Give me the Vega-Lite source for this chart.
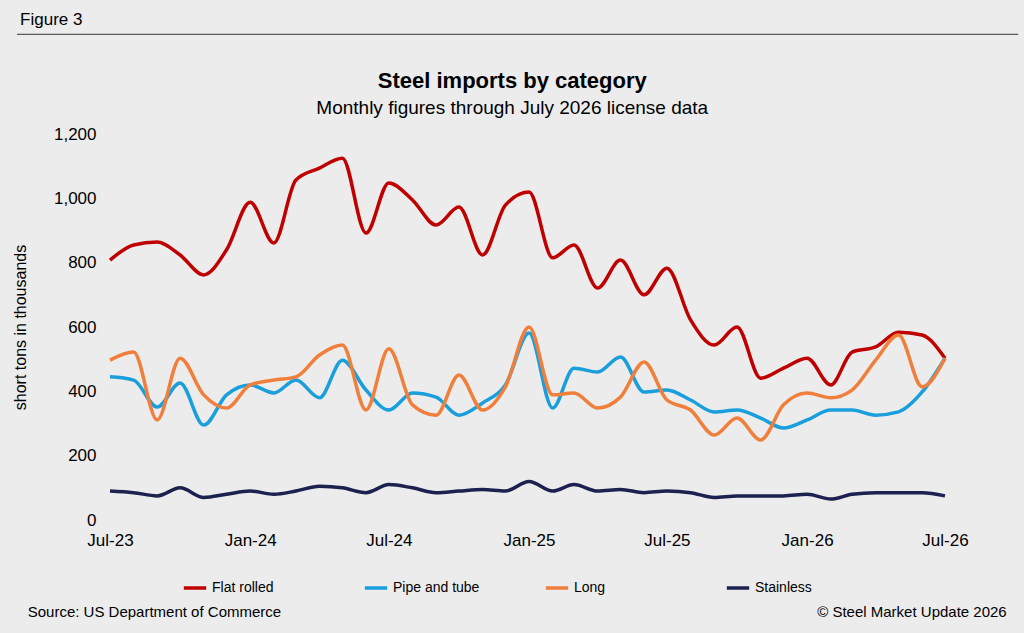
{
  "$schema": "https://vega.github.io/schema/vega-lite/v6.json",
  "width": 835,
  "height": 386,
  "autosize": {"type": "none"},
  "padding": {"left": 110, "top": 134, "right": 79, "bottom": 113},
  "background": "#ececec",
  "config": {"view": {"stroke": null}, "font": "Liberation Sans"},
  "data": {"values": [
    {"m":"2023-07-01","Flat rolled":808,"Pipe and tube":445,"Long":497,"Stainless":90},
    {"m":"2023-08-01","Flat rolled":855,"Pipe and tube":435,"Long":522,"Stainless":85},
    {"m":"2023-09-01","Flat rolled":864,"Pipe and tube":351,"Long":311,"Stainless":75},
    {"m":"2023-10-01","Flat rolled":824,"Pipe and tube":426,"Long":503,"Stainless":100},
    {"m":"2023-11-01","Flat rolled":762,"Pipe and tube":295,"Long":389,"Stainless":70},
    {"m":"2023-12-01","Flat rolled":840,"Pipe and tube":389,"Long":348,"Stainless":80},
    {"m":"2024-01-01","Flat rolled":988,"Pipe and tube":420,"Long":420,"Stainless":90},
    {"m":"2024-02-01","Flat rolled":861,"Pipe and tube":395,"Long":435,"Stainless":80},
    {"m":"2024-03-01","Flat rolled":1057,"Pipe and tube":435,"Long":445,"Stainless":90},
    {"m":"2024-04-01","Flat rolled":1094,"Pipe and tube":380,"Long":513,"Stainless":105},
    {"m":"2024-05-01","Flat rolled":1125,"Pipe and tube":497,"Long":544,"Stainless":100},
    {"m":"2024-06-01","Flat rolled":892,"Pipe and tube":404,"Long":342,"Stainless":85},
    {"m":"2024-07-01","Flat rolled":1048,"Pipe and tube":342,"Long":532,"Stainless":110},
    {"m":"2024-08-01","Flat rolled":995,"Pipe and tube":395,"Long":358,"Stainless":100},
    {"m":"2024-09-01","Flat rolled":917,"Pipe and tube":382,"Long":326,"Stainless":85},
    {"m":"2024-10-01","Flat rolled":973,"Pipe and tube":326,"Long":451,"Stainless":90},
    {"m":"2024-11-01","Flat rolled":824,"Pipe and tube":364,"Long":342,"Stainless":95},
    {"m":"2024-12-01","Flat rolled":979,"Pipe and tube":420,"Long":414,"Stainless":90},
    {"m":"2025-01-01","Flat rolled":1020,"Pipe and tube":581,"Long":600,"Stainless":120},
    {"m":"2025-02-01","Flat rolled":815,"Pipe and tube":348,"Long":389,"Stainless":90},
    {"m":"2025-03-01","Flat rolled":855,"Pipe and tube":472,"Long":395,"Stainless":110},
    {"m":"2025-04-01","Flat rolled":721,"Pipe and tube":460,"Long":348,"Stainless":90},
    {"m":"2025-05-01","Flat rolled":808,"Pipe and tube":507,"Long":382,"Stainless":95},
    {"m":"2025-06-01","Flat rolled":700,"Pipe and tube":398,"Long":491,"Stainless":85},
    {"m":"2025-07-01","Flat rolled":783,"Pipe and tube":404,"Long":373,"Stainless":90},
    {"m":"2025-08-01","Flat rolled":622,"Pipe and tube":373,"Long":342,"Stainless":85},
    {"m":"2025-09-01","Flat rolled":544,"Pipe and tube":336,"Long":264,"Stainless":70},
    {"m":"2025-10-01","Flat rolled":600,"Pipe and tube":342,"Long":317,"Stainless":75},
    {"m":"2025-11-01","Flat rolled":441,"Pipe and tube":317,"Long":249,"Stainless":75},
    {"m":"2025-12-01","Flat rolled":472,"Pipe and tube":286,"Long":358,"Stainless":75},
    {"m":"2026-01-01","Flat rolled":503,"Pipe and tube":311,"Long":395,"Stainless":80},
    {"m":"2026-02-01","Flat rolled":420,"Pipe and tube":342,"Long":380,"Stainless":65},
    {"m":"2026-03-01","Flat rolled":522,"Pipe and tube":342,"Long":404,"Stainless":80},
    {"m":"2026-04-01","Flat rolled":538,"Pipe and tube":326,"Long":497,"Stainless":85},
    {"m":"2026-05-01","Flat rolled":584,"Pipe and tube":336,"Long":575,"Stainless":85},
    {"m":"2026-06-01","Flat rolled":575,"Pipe and tube":398,"Long":414,"Stainless":85},
    {"m":"2026-07-01","Flat rolled":503,"Pipe and tube":503,"Long":503,"Stainless":75}
  ]},
  "layer": [
    {
      "transform": [{"fold": ["Flat rolled", "Pipe and tube", "Long", "Stainless"], "as": ["series", "v"]}],
      "mark": {"type": "line", "interpolate": "monotone", "strokeWidth": 3.5},
      "encoding": {
        "x": {"field": "m", "type": "temporal", "timeUnit": "yearmonth",
          "scale": {"domain": ["2023-07-01", "2026-07-01"]},
          "axis": {"values": ["2023-07-01","2024-01-01","2024-07-01","2025-01-01","2025-07-01","2026-01-01","2026-07-01"],
            "format": "%b-%y", "title": null, "domain": false, "ticks": false, "grid": false,
            "labelFontSize": 17, "labelColor": "black", "labelPadding": 12, "labelFlush": false}},
        "y": {"field": "v", "type": "quantitative", "scale": {"domain": [0, 1200]},
          "axis": {"values": [0,200,400,600,800,1000,1200], "title": "short tons in thousands", "titleFontSize": 16,
            "titleFontWeight": "normal", "titleColor": "black", "titlePadding": 25, "domain": false, "ticks": false, "grid": false,
            "labelFontSize": 17, "labelColor": "black", "labelPadding": 14}},
        "color": {"field": "series", "type": "nominal",
          "scale": {"domain": ["Flat rolled", "Pipe and tube", "Long", "Stainless"],
            "range": ["#c00000", "#1a9fdc", "#f07f3c", "#1c2150"]},
          "legend": {"title": null, "orient": "none", "legendX": 72, "legendY": 441, "direction": "horizontal",
            "columns": 4, "gridAlign": "all", "columnPadding": 58, "symbolType": "stroke", "symbolStrokeWidth": 3.5,
            "symbolSize": 500, "labelFontSize": 14, "labelColor": "black"}}
      }
    },
    {
      "data": {"values": [
        {"t": "Figure 3", "x": "2023-03-05", "y": 1555, "s": 17},
        {"t": "Source: US Department of Commerce", "x": "2023-03-15", "y": -285, "s": 15}]},
      "mark": {"type": "text", "align": "left", "color": "black", "clip": false},
      "encoding": {"x": {"field": "x", "type": "temporal"}, "y": {"field": "y", "type": "quantitative"}, "text": {"field": "t"},
        "size": {"field": "s", "type": "quantitative", "scale": null}}
    },
    {
      "data": {"values": [{"t": "Steel imports by category", "x": "2024-12-10", "y": 1365}]},
      "mark": {"type": "text", "align": "center", "color": "black", "clip": false, "fontSize": 22, "fontWeight": "bold"},
      "encoding": {"x": {"field": "x", "type": "temporal"}, "y": {"field": "y", "type": "quantitative"}, "text": {"field": "t"}}
    },
    {
      "data": {"values": [{"t": "Monthly figures through July 2026 license data", "x": "2024-12-10", "y": 1280}]},
      "mark": {"type": "text", "align": "center", "color": "black", "clip": false, "fontSize": 19},
      "encoding": {"x": {"field": "x", "type": "temporal"}, "y": {"field": "y", "type": "quantitative"}, "text": {"field": "t"}}
    },
    {
      "data": {"values": [{"t": "© Steel Market Update 2026", "x": "2026-09-20", "y": -285}]},
      "mark": {"type": "text", "align": "right", "fontSize": 15, "color": "black", "clip": false},
      "encoding": {"x": {"field": "x", "type": "temporal"}, "y": {"field": "y", "type": "quantitative"}, "text": {"field": "t"}}
    },
    {
      "data": {"values": [{"a": "2023-03-01", "b": "2026-10-05", "y": 1510}]},
      "mark": {"type": "rule", "color": "#333", "strokeWidth": 1, "clip": false},
      "encoding": {"x": {"field": "a", "type": "temporal"}, "x2": {"field": "b"}, "y": {"field": "y", "type": "quantitative"}}
    }
  ]
}
